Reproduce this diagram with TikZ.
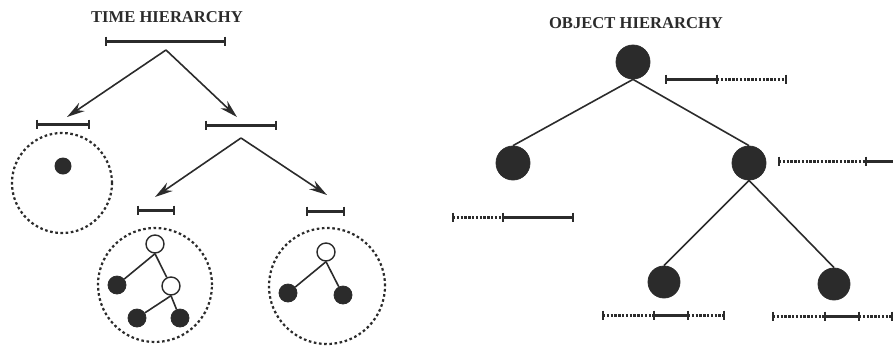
\documentclass[tikz,border=0pt]{standalone}
\usepackage{fontspec}
\setmainfont{Liberation Serif}
\usetikzlibrary{arrows.meta}
\definecolor{ink}{HTML}{2B2B2B}
\newcommand\ivtick[2]{\draw[tickmark] (#1,#2) ++(0,-4.5) -- ++(0,9);}
\begin{document}
\begin{tikzpicture}[x=0.5pt,y=-0.5pt,
  title/.style={font=\bfseries\fontsize{8.3}{10}\selectfont, text=ink, inner sep=0},
  seg/.style={draw=ink, line width=1.5pt},
  dseg/.style={draw=ink, line width=1.5pt, dash pattern=on 1.2pt off 0.7pt},
  tickmark/.style={draw=ink, line width=1.4pt},
  arr/.style={draw=ink, line width=0.8pt, -{Stealth[length=9pt,width=5pt]}},
  edge/.style={draw=ink, line width=0.8pt},
  bignode/.style={circle, fill=ink, draw=ink, minimum size=17pt, inner sep=0},
  midnode/.style={circle, fill=ink, draw=ink, minimum size=16pt, inner sep=0},
  sfill/.style={circle, fill=ink, draw=ink, minimum size=9pt, inner sep=0},
  sopen/.style={circle, fill=white, draw=ink, line width=0.7pt, minimum size=9pt, inner sep=0},
  dcirc/.style={circle, draw=ink, line width=1.1pt, dash pattern=on 1.3pt off 1.3pt, inner sep=0}]
\useasboundingbox (0,0) rectangle (893,349);

% ---------- TIME HIERARCHY ----------
\node[title] (t1) at (167,17) {TIME HIERARCHY};

% top interval
\draw[seg] (106,41) -- (225,41);
\ivtick{106}{41}\ivtick{225}{41}
\coordinate (apexA) at (166,50);
\coordinate (tipL) at (67,117);
\coordinate (tipR) at (237,117);
\draw[arr] (apexA) -- (tipL);
\draw[arr] (apexA) -- (tipR);

% second level intervals
\draw[seg] (37,124) -- (89,124);
\ivtick{37}{124}\ivtick{89}{124}
\draw[seg] (206,125) -- (276,125);
\ivtick{206}{125}\ivtick{276}{125}

% left dashed circle with single object
\node[dcirc, minimum size=50pt] (c1) at (62,183) {};
\node[circle, fill=ink, minimum size=8.5pt, inner sep=0] (dot) at (63,166) {};

% arrows to third level
\coordinate (apexB) at (241,138);
\coordinate (tipLL) at (155,197);
\coordinate (tipLR) at (327,195);
\draw[arr] (apexB) -- (tipLL);
\draw[arr] (apexB) -- (tipLR);

% third level intervals
\draw[seg] (138,210) -- (174,210);
\ivtick{138}{210}\ivtick{174}{210}
\draw[seg] (307,211) -- (344,211);
\ivtick{307}{211}\ivtick{344}{211}

% middle dashed circle with tree
\node[dcirc, minimum size=57pt] (c2) at (155,285) {};
\node[sopen] (m1) at (155,244) {};
\node[sfill] (m2) at (117,285) {};
\node[sopen] (m3) at (171,286) {};
\node[sfill] (m4) at (137,318) {};
\node[sfill] (m5) at (180,318) {};
\draw[edge] (m1.south) -- (m2);
\draw[edge] (m1.south) -- (m3);
\draw[edge] (m3.south) -- (m4);
\draw[edge] (m3.south) -- (m5);

% right dashed circle with tree
\node[dcirc, minimum size=58pt] (c3) at (327,286) {};
\node[sopen] (r1) at (326,252) {};
\node[sfill] (r2) at (288,293) {};
\node[sfill] (r3) at (343,295) {};
\draw[edge] (r1.south) -- (r2);
\draw[edge] (r1.south) -- (r3);

% ---------- OBJECT HIERARCHY ----------
\node[title] (t2) at (636,23) {OBJECT HIERARCHY};

\node[bignode] (o1) at (633,62) {};
\node[bignode] (o2) at (513,163) {};
\node[bignode] (o3) at (749,163) {};
\node[midnode] (o4) at (664,282) {};
\node[midnode] (o5) at (834,284) {};
\draw[edge] (o1.south) -- (o2.north);
\draw[edge] (o1.south) -- (o3.north);
\draw[edge] (o3.south) -- (o4.north);
\draw[edge] (o3.south) -- (o5.north);

% root interval
\draw[seg] (666,79) -- (717,79);
\draw[dseg] (717,79) -- (786,79);
\ivtick{666}{79}\ivtick{717}{79}\ivtick{786}{79}

% right child interval
\draw[dseg] (779,161) -- (866,161);
\draw[seg] (866,161) -- (893,161);
\ivtick{779}{161}\ivtick{866}{161}

% left isolated interval
\draw[dseg] (453,217) -- (503,217);
\draw[seg] (503,217) -- (573,217);
\ivtick{453}{217}\ivtick{503}{217}\ivtick{573}{217}

% grandchild intervals
\draw[dseg] (603,315) -- (654,315);
\draw[seg] (654,315) -- (688,315);
\draw[dseg] (688,315) -- (724,315);
\ivtick{603}{315}\ivtick{654}{315}\ivtick{688}{315}\ivtick{724}{315}

\draw[dseg] (773,316) -- (825,316);
\draw[seg] (825,316) -- (859,316);
\draw[dseg] (859,316) -- (892,316);
\ivtick{773}{316}\ivtick{825}{316}\ivtick{859}{316}\ivtick{892}{316}
\end{tikzpicture}
\end{document}
